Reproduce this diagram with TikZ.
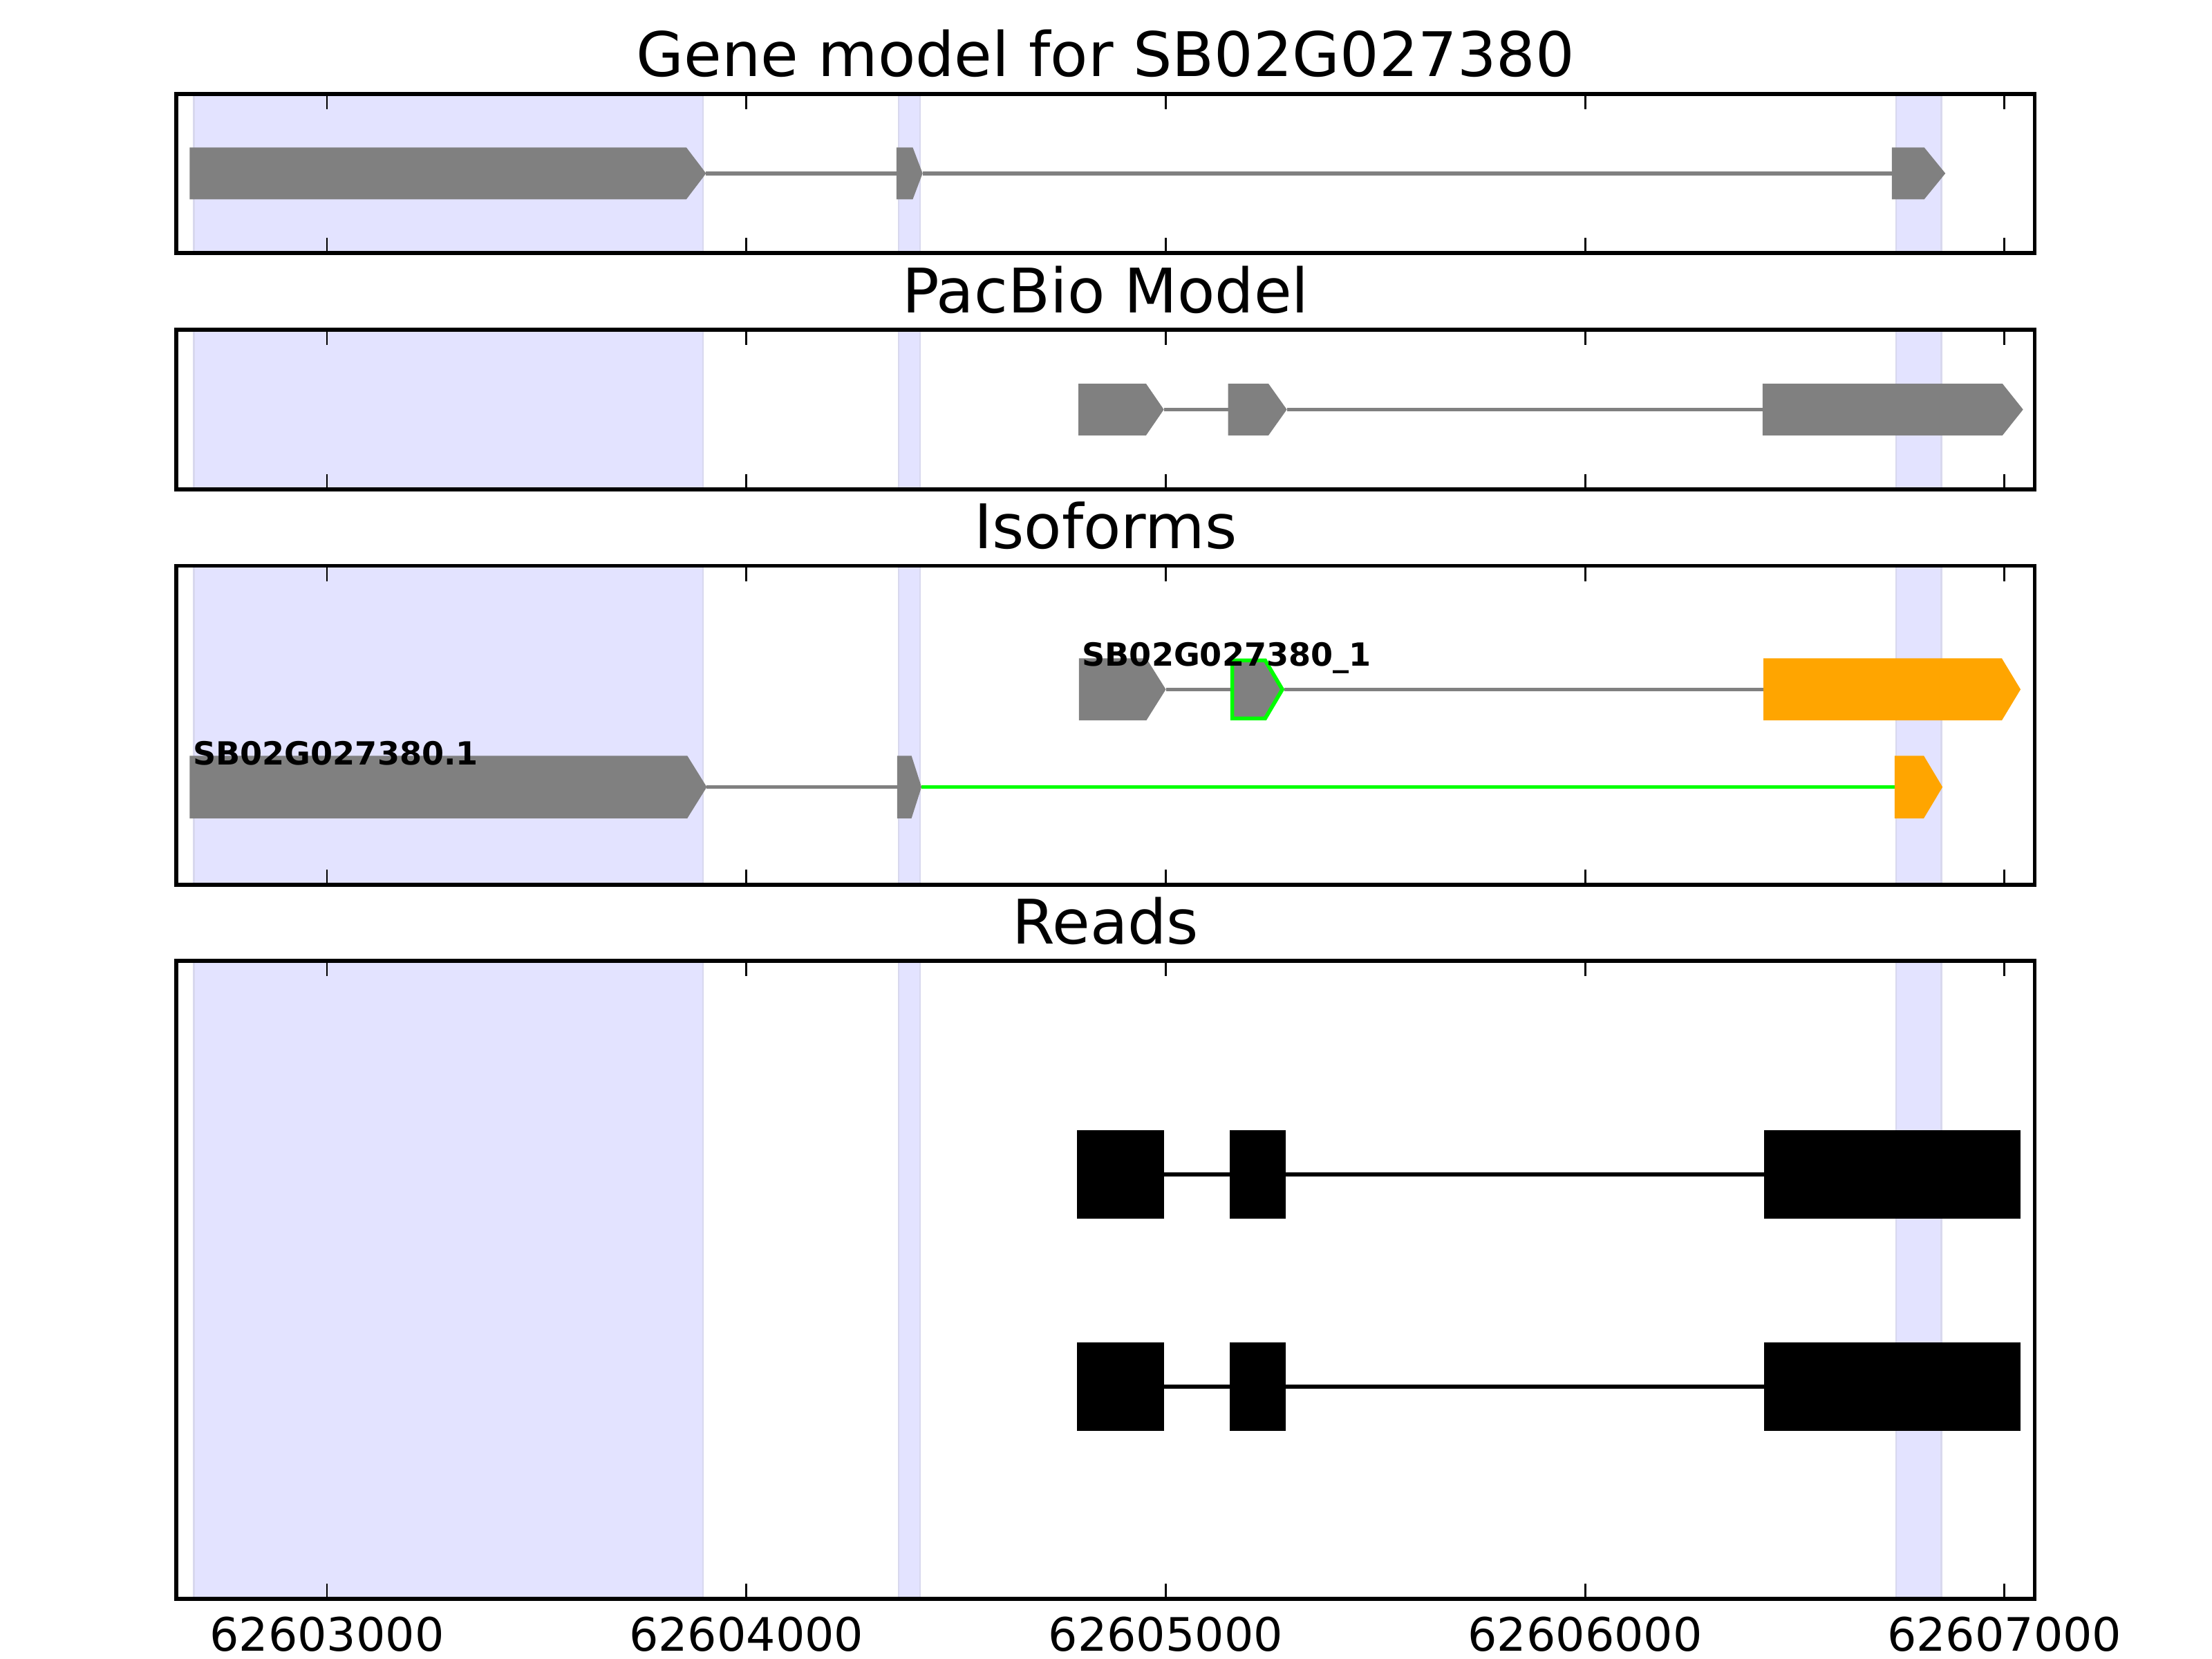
\documentclass[tikz,border=0pt]{standalone}
\usepackage{fontspec}
\setmainfont{DejaVu Sans}
\definecolor{exongray}{RGB}{128,128,128}
\definecolor{exonorange}{RGB}{255,165,0}
\definecolor{splicegreen}{RGB}{0,255,0}
\definecolor{shadeblue}{RGB}{227,227,255}
\definecolor{shadeedge}{RGB}{216,216,238}
\tikzstyle{panelframe}=[draw=black,line width=1pt]
\tikzstyle{exonshade}=[fill=shadeblue,draw=shadeedge,line width=0.4pt]
\tikzstyle{tickmark}=[black,line width=0.5pt]
\tikzstyle{intron}=[exongray,line width=1pt]
\tikzstyle{greenintron}=[splicegreen,line width=1pt]
\tikzstyle{readintron}=[black,line width=1pt]
\tikzstyle{paneltitle}=[font=\fontsize{16}{19}\selectfont,anchor=base,inner sep=0pt]
\tikzstyle{ticklabel}=[font=\fontsize{12}{14}\selectfont,anchor=north,inner sep=0pt]
\tikzstyle{isolabel}=[font=\fontsize{8.3}{10}\selectfont\bfseries,anchor=base west,inner sep=0pt]
\newcommand{\exonarrow}[6]{\path[#1] (#2,{#5-#6}) -- (#3,{#5-#6}) -- (#4,#5) -- (#3,{#5+#6}) -- (#2,{#5+#6}) -- cycle;}
\newcommand{\exonbox}[5]{\path[#1] (#2,{#4-#5}) rectangle (#3,{#4+#5});}
\begin{document}
\begin{tikzpicture}[x=109.205pt,y=-0.367347pt]
          \useasboundingbox (2.2203,0) rectangle (7.4948,1176);
          \foreach \top/\bot in {66.5/179.3,233.8/346.9,401/627.2,681/1133.5}{
            \path[exonshade] (2.6825,\top) rectangle (3.8968,\bot);
            \path[exonshade] (4.3634,\top) rectangle (4.4138,\bot);
            \path[exonshade] (6.7413,\top) rectangle (6.8496,\bot);
          }
          \node[paneltitle] (genetitle) at (4.8564,54) {Gene model for SB02G027380};
          \node[paneltitle] (pacbiotitle) at (4.8564,221.8) {PacBio Model};
          \node[paneltitle] (isoformtitle) at (4.8564,389) {Isoforms};
          \node[paneltitle] (readstitle) at (4.8564,669) {Reads};
          \draw[intron] (3.9039,122.9) -- (4.3580,122.9);
          \draw[intron] (4.4202,122.9) -- (6.7315,122.9);
          \exonarrow{fill=exongray}{2.6727}{3.8568}{3.9039}{122.9}{18.4}
          \exonarrow{fill=exongray}{4.3580}{4.3967}{4.4202}{122.9}{18.4}
          \exonarrow{fill=exongray}{6.7315}{6.8085}{6.8590}{122.9}{18.4}
          \draw[intron] (4.9954,290.3) -- (5.1485,290.3);
          \draw[intron] (5.2887,290.3) -- (6.4231,290.3);
          \exonarrow{fill=exongray}{4.7919}{4.9531}{4.9954}{290.3}{18.3}
          \exonarrow{fill=exongray}{5.1485}{5.2450}{5.2887}{290.3}{18.3}
          \exonarrow{fill=exongray}{6.4231}{6.9952}{7.0443}{290.3}{18.3}
          \draw[intron] (5.0002,488.7) -- (5.1539,488.7);
          \draw[intron] (5.2827,488.7) -- (6.4251,488.7);
          \exonarrow{fill=exongray}{4.7929}{4.9537}{5.0002}{488.7}{22}
          \exonarrow{fill=exongray,draw=splicegreen,line width=1pt}{5.1585}{5.2370}{5.2780}{488.7}{20.6}
          \exonarrow{fill=exonorange}{6.4251}{6.9936}{7.0383}{488.7}{22}
          \draw[intron] (3.9056,557.9) -- (4.3597,557.9);
          \draw[greenintron] (4.4176,557.9) -- (6.7379,557.9);
          \exonarrow{fill=exongray}{2.6724}{3.8591}{3.9056}{557.9}{22.2}
          \exonarrow{fill=exongray}{4.3597}{4.3937}{4.4176}{557.9}{22.2}
          \exonarrow{fill=exonorange}{6.7379}{6.8075}{6.8522}{557.9}{22.2}
          \node[isolabel] (isotop) at (4.7990,472) {SB02G027380\_1};
          \node[isolabel] (isobottom) at (2.6790,542) {SB02G027380.1};
          \foreach \y in {832.4,983}{
            \draw[readintron] (4.9954,\y) -- (5.1532,\y);
            \draw[readintron] (5.2857,\y) -- (6.4261,\y);
            \exonbox{fill=black}{4.7889}{4.9954}{\y}{31.3}
            \exonbox{fill=black}{5.1532}{5.2857}{\y}{31.3}
            \exonbox{fill=black}{6.4261}{7.0383}{\y}{31.3}
          }
          \foreach \top/\bot in {66.5/179.3,233.8/346.9,401/627.2,681/1133.5}{
            \foreach \k in {3,...,7}{
              \draw[tickmark] (\k,\top) -- ++(0,10.9);
              \draw[tickmark] (\k,\bot) -- ++(0,-10.9);
            }
            \draw[panelframe] (2.6408,\top) rectangle (7.0719,\bot);
          }
          \foreach \k in {3,...,7}
            \node[ticklabel] (pos\k) at (\k,1145.8) {6260\k000};
        \end{tikzpicture}
\end{document}
